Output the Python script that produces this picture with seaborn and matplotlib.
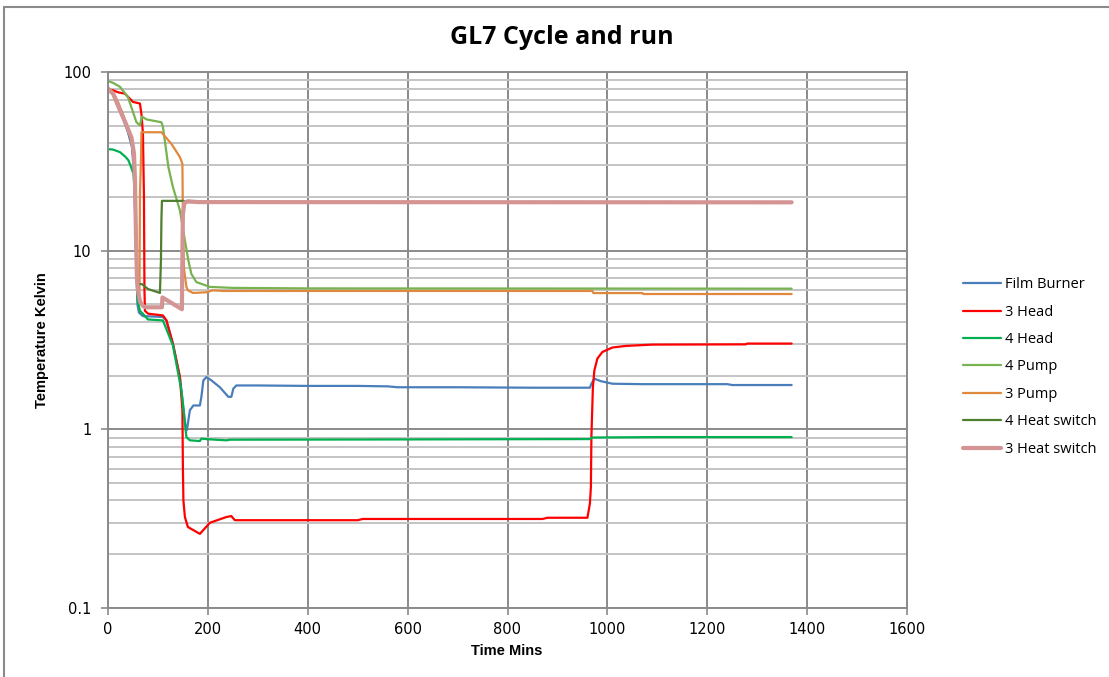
import numpy as np
import pandas as pd
import matplotlib.pyplot as plt
from matplotlib.patches import Rectangle
from matplotlib.ticker import LogLocator, FixedLocator, NullFormatter
import seaborn as sns

# -----------------------------
# Data (time in mins, temperature in K)
# -----------------------------
fb_t = [0, 10, 20, 30, 40, 48, 53, 56, 59, 62, 70, 100, 110, 117, 130, 144, 150, 155, 158,
        164, 171, 184, 187, 191, 197, 207, 224, 241, 247, 251, 257, 300, 400, 500, 560, 580,
        700, 850, 965, 968, 974, 987, 1010, 1070, 1240, 1250, 1369]
fb_v = [80, 75, 64, 55, 46, 38, 25, 10, 5, 4.5, 4.3, 4.27, 4.25, 4.07, 3.0, 1.96, 1.4, 1.05, 0.99,
        1.28, 1.36, 1.36, 1.52, 1.88, 1.96, 1.88, 1.72, 1.52, 1.52, 1.69, 1.76, 1.76, 1.75, 1.75,
        1.74, 1.72, 1.72, 1.71, 1.71, 1.80, 1.92, 1.86, 1.80, 1.79, 1.79, 1.77, 1.77]

h3_t = [0, 10, 20, 34, 50, 64, 67, 70, 72, 73, 74, 78, 80, 110, 117, 130, 144, 149, 150, 151,
        154, 160, 184, 204, 237, 247, 254, 500, 510, 870, 880, 960, 965, 967, 968, 971, 974,
        980, 990, 1010, 1037, 1090, 1277, 1280, 1369]
h3_v = [80, 79, 77, 75.6, 68, 66.6, 58, 45, 20, 6, 4.6, 4.5, 4.44, 4.34, 4.07, 3.02, 1.96, 1.28,
        0.6, 0.4, 0.323, 0.284, 0.26, 0.30, 0.323, 0.327, 0.31, 0.31, 0.315, 0.315, 0.32, 0.32,
        0.384, 0.476, 0.905, 1.72, 2.14, 2.49, 2.71, 2.87, 2.93, 2.98, 2.99, 3.02, 3.02]

h4_t = [0, 10, 24, 35, 41, 46, 51, 53, 55, 57, 59, 64, 70, 80, 110, 130, 147, 154, 157, 164,
        184, 187, 200, 237, 245, 600, 965, 970, 1100, 1369]
h4_v = [37, 36.8, 35.6, 33.5, 32, 29.5, 27, 22, 14, 8, 5.3, 4.6, 4.43, 4.12, 4.07, 2.95, 1.65,
        1.08, 0.905, 0.868, 0.86, 0.887, 0.88, 0.868, 0.875, 0.878, 0.882, 0.90, 0.905, 0.905]

p4_t = [0, 10, 24, 40, 57, 64, 68, 77, 107, 110, 121, 130, 144, 154, 161, 167, 177, 204, 250,
        400, 1369]
p4_v = [89, 87, 82.6, 72.3, 52.3, 50.3, 56.3, 54.3, 52.3, 49.3, 29.3, 22.7, 16.8, 11.4, 8.8,
        7.4, 6.67, 6.27, 6.19, 6.15, 6.13]

p3_t = [0, 10, 20, 30, 40, 48, 53, 56, 59, 61, 63, 64, 66, 67, 80, 107, 110, 127, 144, 149,
        150, 152, 157, 160, 170, 197, 210, 230, 970, 972, 1070, 1072, 1369]
p3_v = [82, 77, 68, 58, 48, 40, 28, 12, 6, 5.5, 6, 20.9, 32, 46, 46, 46, 45, 39.6, 33.4, 30.6,
        15, 8, 6.27, 6.0, 5.8, 5.85, 6.0, 5.95, 5.95, 5.79, 5.79, 5.72, 5.72]

hs4_t = [0, 10, 20, 30, 40, 48, 53, 56, 59, 68, 80, 104, 106, 107, 108, 147, 150, 160, 1369]
hs4_v = [79, 75, 65, 56, 47, 40, 30, 12, 6.5, 6.5, 6.1, 5.8, 8.8, 15, 19, 19, 19, 18.7, 18.7]

hs3_t = [0, 10, 24, 35, 47, 52, 54, 56, 58, 60, 64, 70, 76, 108, 109, 148, 149, 150, 153,
         160, 180, 1369]
hs3_v = [80, 76, 61, 52, 43, 35, 25, 12, 7, 6, 5.2, 4.9, 4.82, 4.82, 5.47, 4.7, 10, 16, 18.5,
         18.9, 18.7, 18.64]

labels = ["Film Burner", "3 Head", "4 Head", "4 Pump", "3 Pump", "4 Heat switch", "3 Heat switch"]
times = [fb_t, h3_t, h4_t, p4_t, p3_t, hs4_t, hs3_t]
temps = [fb_v, h3_v, h4_v, p4_v, p3_v, hs4_v, hs3_v]
colors = ["#4A7EBB", "#FF0000", "#00B050", "#77B350", "#E0883C", "#4E7F2E", "#D49494"]
widths = [1.6, 1.6, 1.6, 1.6, 1.6, 1.6, 3.0]

frames = []
for lab, t, v in zip(labels, times, temps):
    frames.append(pd.DataFrame({"Time": t, "Temp": v, "Sensor": lab}))
data = pd.concat(frames, ignore_index=True)

# -----------------------------
# Plot
# -----------------------------
sns.set_style("white")
plt.rcParams["font.family"] = ["DejaVu Sans"]
plt.rcParams["text.color"] = "black"
plt.rcParams["xtick.color"] = "black"
plt.rcParams["ytick.color"] = "black"

fig = plt.figure(figsize=(11.09, 6.77), dpi=100)
ax = fig.add_axes([108 / 1109, 1 - 608 / 677, (907 - 108) / 1109, (608 - 72) / 677])

for lab, c, lw in zip(labels, colors, widths):
    sub = data[data["Sensor"] == lab]
    sns.lineplot(x="Time", y="Temp", data=sub, ax=ax, color=c, linewidth=lw,
                 sort=False, estimator=None, label=lab)

ax.set_yscale("log")
ax.set_ylim(0.1, 100)
ax.set_xlim(0, 1600)
ax.xaxis.set_major_locator(FixedLocator(np.arange(0, 1601, 200)))
ax.yaxis.set_major_locator(FixedLocator([0.1, 1, 10, 100]))
ax.set_yticklabels(["0.1", "1", "10", "100"])
ax.yaxis.set_minor_locator(LogLocator(base=10, subs=np.arange(2, 10)))
ax.yaxis.set_minor_formatter(NullFormatter())

ax.grid(True, which="major", axis="both", color="#8a8a8a", linewidth=1.4)
ax.grid(True, which="minor", axis="y", color="#c4c4c4", linewidth=1.4)
ax.set_axisbelow(True)
for s in ax.spines.values():
    s.set_color("#8a8a8a")
    s.set_linewidth(1.4)

ax.tick_params(axis="both", which="major", direction="out", length=5, width=1.2,
               color="#8a8a8a", labelcolor="black", labelsize=10.5, left=True, bottom=True)
ax.tick_params(axis="y", which="major", pad=7)
ax.tick_params(axis="x", which="major", pad=5)
ax.tick_params(axis="y", which="minor", length=0)
ax.set_xlabel("")
ax.set_ylabel("")

fig.text(562 / 1109, 1 - 38 / 677, "GL7 Cycle and run", ha="center", va="center",
         fontsize=18, fontweight="bold", color="black", family=["Open Sans", "DejaVu Sans"])
fig.text(507 / 1109, 1 - 651 / 677, "Time Mins", ha="center", va="center", color="black",
         fontsize=10.5, fontweight="bold", family=["Liberation Sans Narrow", "Liberation Sans"])
fig.text(42 / 1109, 1 - 340 / 677, "Temperature Kelvin", ha="center", va="center",
         rotation=90, fontsize=10.5, fontweight="bold", color="black",
         family=["Liberation Sans Narrow", "Liberation Sans"])

leg = ax.legend(loc="center left", bbox_to_anchor=(950 / 1109, 1 - 367 / 677),
                bbox_transform=fig.transFigure, frameon=False, handlelength=2.6,
                handletextpad=0.3, labelspacing=0.85,
                prop={"family": ["Open Sans", "DejaVu Sans"], "size": 10.5})
for txt in leg.get_texts():
    txt.set_color("black")

# outer chart border
fig.patches.append(Rectangle((4 / 1109, -0.05), 1.2, 1 - 7 / 677 + 0.05,
                             transform=fig.transFigure, fill=False,
                             edgecolor="#8a8a8a", linewidth=1.5))

plt.savefig("out.png", dpi=100)
